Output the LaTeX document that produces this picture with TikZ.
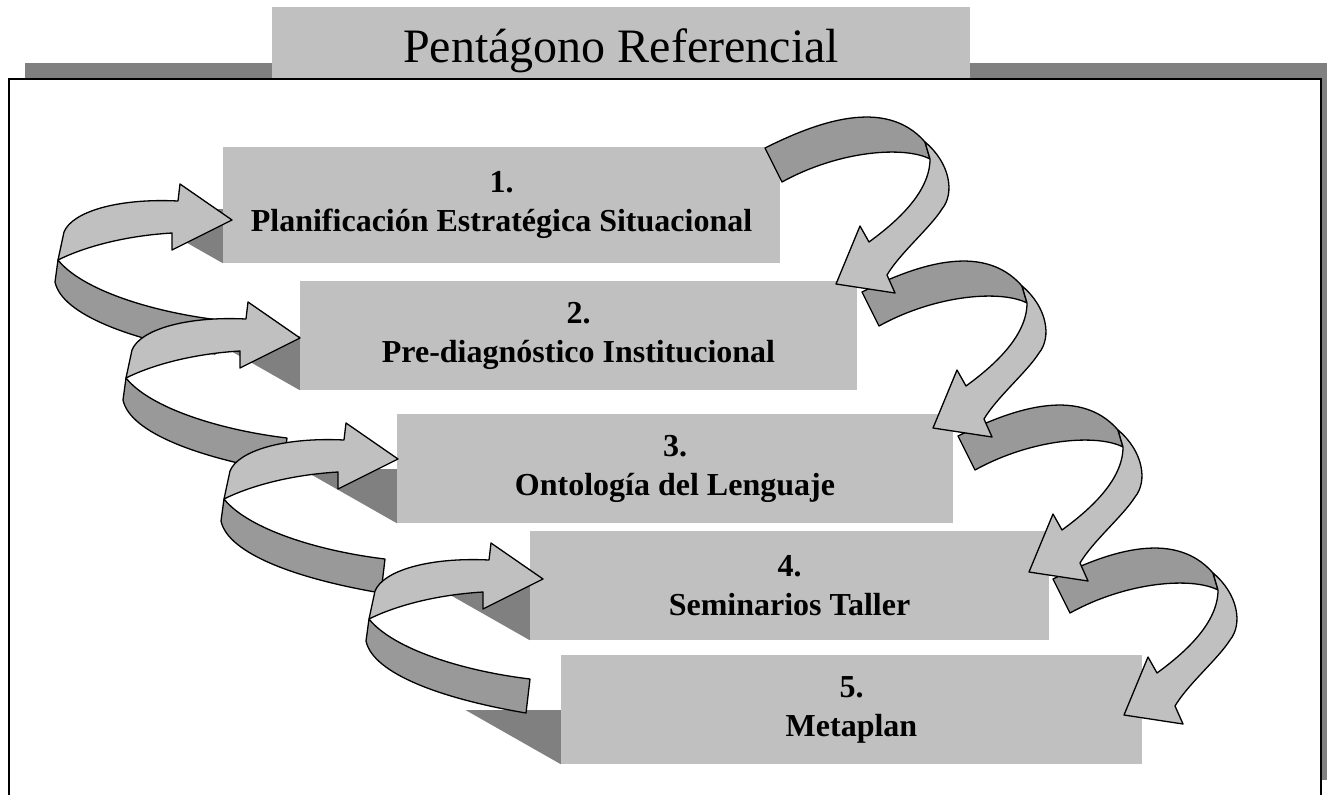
\documentclass[tikz,border=0pt]{standalone}
\usepackage{fontspec}
\setmainfont{Liberation Serif}
\definecolor{boxgray}{RGB}{192,192,192}
\definecolor{shadegray}{RGB}{128,128,128}
\definecolor{bandgray}{RGB}{153,153,153}
\tikzset{
  stepbox/.style={fill=boxgray, inner sep=0pt, align=center,
    font=\fontsize{32}{39}\selectfont\bfseries},
  ribbon/.style={draw=black, line width=1.3pt, line join=round},
  leftloop/.pic={
    \filldraw[ribbon, fill=bandgray] (-174,40) -- (-177,62) .. controls (-170,95) and (-100,120) .. (-17,134)
      -- (-13,100) .. controls (-80,92) and (-150,70) .. (-174,40) -- cycle;
    \filldraw[ribbon, fill=boxgray] (0,0) -- (-52,-36) -- (-54,-19) .. controls (-115,-22) and (-160,-8) .. (-168,12)
      -- (-174,40) .. controls (-150,28) and (-110,16) .. (-60,13) -- (-60,30) -- cycle;
  },
  rightloop/.pic={
    \filldraw[ribbon, fill=bandgray] (0,0) .. controls (50,-25) and (120,-52) .. (160,-6)
      -- (165,11) .. controls (140,-2) and (75,2) .. (17,34) -- cycle;
    \filldraw[ribbon, fill=boxgray] (160,-6) .. controls (185,15) and (190,45) .. (177,61)
      .. controls (165,80) and (135,105) .. (122,127) -- (130,145) -- (71,136) -- (95,78)
      -- (104,94) .. controls (130,75) and (165,45) .. (165,11) -- cycle;
  }
}
\begin{document}
\begin{tikzpicture}[x=1pt,y=-1pt]
\useasboundingbox (0,0) rectangle (1327,795);
\fill[shadegray] (25,63) rectangle (1327,780);
\filldraw[fill=white, draw=black, line width=1.5pt] (9,795) -- (9,79) -- (1321,79) -- (1321,795);
\node[fill=boxgray, inner sep=0pt, minimum width=698pt, minimum height=71pt, anchor=north west] (title) at (272,7) {};
\draw[black, line width=1.5pt] (title.south west) -- (title.south east);
\node[anchor=base, font=\fontsize{48}{58}\selectfont] (titletext) at ([yshift=16pt]title.south) {Pentágono Referencial};

\node[stepbox, minimum width=557pt, minimum height=116pt] (box1) at (501.5,205) {1.\\Planificación Estratégica Situacional};
\node[stepbox, minimum width=557pt, minimum height=109pt] (box2) at (578.5,335.5) {2.\\Pre-diagnóstico Institucional};
\node[stepbox, minimum width=556pt, minimum height=109pt] (box3) at (675,468.5) {3.\\Ontología del Lenguaje};
\node[stepbox, minimum width=519pt, minimum height=109pt] (box4) at (789.5,585.5) {4.\\Seminarios Taller};
\node[stepbox, minimum width=581pt, minimum height=109pt] (box5) at (851.5,709.5) {5.\\Metaplan};

\foreach \b in {box1,box2,box3,box4,box5}
  \fill[shadegray] (\b.south west) -- ++(-95,-54) -- ++(95,0) -- cycle;

\pic at (232,220) {leftloop};
\pic at (300,338) {leftloop};
\pic at (398,459) {leftloop};
\pic at (543,579) {leftloop};

\pic at (1053,579) {rightloop};
\pic at (958,436) {rightloop};
\pic at (862,292) {rightloop};
\pic at (765,148) {rightloop};
\end{tikzpicture}
\end{document}
